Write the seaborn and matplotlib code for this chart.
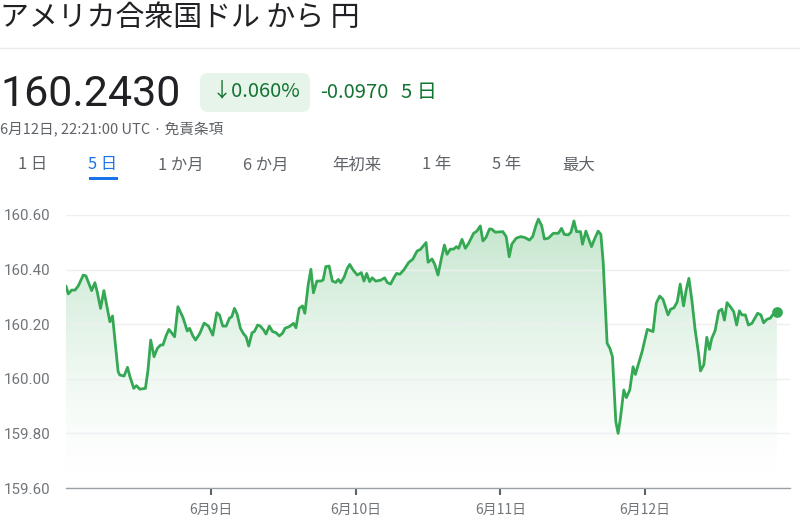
import numpy as np
import pandas as pd
import seaborn as sns
import matplotlib.pyplot as plt
from matplotlib.patches import FancyBboxPatch, Rectangle, PathPatch
from matplotlib.lines import Line2D

# hours since 6/8 00:00 and USD/JPY rate
hours = [0.0, 0.38, 0.94, 1.49, 2.03, 2.86, 3.30, 4.25, 4.79, 5.17,
         5.73, 6.28, 7.27, 7.71, 8.64, 8.92, 9.63, 10.19, 10.57, 11.23,
         11.68, 12.22, 13.16, 13.59, 14.04, 14.59, 15.15, 15.69, 16.07, 16.63,
         17.06, 18.00, 18.55, 19.38, 20.10, 20.48, 21.03, 21.47, 22.13, 22.90,
         23.62, 24.33, 24.99, 25.44, 25.98, 26.54, 27.09, 27.47, 27.92, 28.36,
         28.91, 29.45, 29.85, 30.28, 30.84, 31.22, 31.76, 32.21, 32.75, 33.15,
         33.70, 34.24, 34.80, 35.35, 35.89, 36.29, 37.00, 37.71, 38.11, 38.65,
         39.20, 39.59, 40.14, 40.59, 41.01, 41.58, 42.24, 42.62, 43.06, 43.61,
         44.15, 44.71, 45.14, 45.54, 46.09, 46.63, 47.03, 47.57,
         48.28, 48.94, 49.39, 49.83, 50.33, 50.76, 51.32, 52.15, 52.81, 53.24,
         53.80, 54.34, 54.79, 55.34, 56.00, 56.82, 57.48, 58.19, 58.75, 59.68,
         60.01, 60.67, 61.12, 61.66, 62.22, 62.72, 63.15, 63.71, 64.25, 64.70,
         65.08, 65.63, 66.19, 66.73, 67.56, 68.10, 68.67, 69.10, 69.59, 70.20,
         70.58, 71.14,
         72.40, 72.96, 73.46, 73.89, 74.61, 75.37, 76.10, 76.81, 77.35, 77.91,
         78.30, 78.84, 79.29, 79.95, 80.77, 81.60, 82.14, 82.59, 83.25, 83.70,
         84.19, 84.62, 85.28, 85.61, 86.17, 87.10, 87.66, 88.20, 88.65, 89.03,
         89.69, 90.14, 90.57, 91.13, 91.51, 91.89, 92.45, 92.88, 93.44, 93.99,
         94.37,
         95.48, 96.35, 97.30, 97.84, 98.40, 98.95, 99.78, 100.22, 100.77, 101.31,
         101.80, 102.36, 102.79, 103.24, 103.73, 104.28, 104.84, 105.17, 105.71, 106.21,
         106.65, 107.03, 107.58, 108.19, 108.69, 109.13, 109.56, 110.12, 110.67, 111.16,
         111.61, 112.04, 112.60, 113.10, 113.69, 114.63, 115.18, 115.63, 116.17, 116.73,
         117.11, 117.82]

prices = [160.340, 160.311, 160.325, 160.325, 160.340, 160.380, 160.377, 160.323, 160.352, 160.319,
          160.258, 160.323, 160.209, 160.230, 160.026, 160.014, 160.010, 160.042, 160.010, 159.965,
          159.975, 159.962, 159.965, 160.032, 160.142, 160.081, 160.112, 160.124, 160.124, 160.160,
          160.181, 160.154, 160.264, 160.225, 160.175, 160.185, 160.157, 160.142, 160.164, 160.204,
          160.193, 160.160, 160.242, 160.234, 160.193, 160.193, 160.222, 160.227, 160.258, 160.237,
          160.185, 160.164, 160.154, 160.120, 160.169, 160.173, 160.197, 160.193, 160.179, 160.164,
          160.193, 160.173, 160.169, 160.157, 160.167, 160.185, 160.191, 160.203, 160.187, 160.258,
          160.267, 160.240, 160.344, 160.401, 160.315, 160.358, 160.358, 160.362, 160.411, 160.413,
          160.358, 160.353, 160.364, 160.352, 160.372, 160.405, 160.419, 160.399,
          160.380, 160.389, 160.358, 160.386, 160.356, 160.370, 160.358, 160.361, 160.370, 160.353,
          160.347, 160.370, 160.386, 160.383, 160.399, 160.427, 160.438, 160.468, 160.474, 160.499,
          160.427, 160.439, 160.419, 160.380, 160.441, 160.490, 160.456, 160.475, 160.475, 160.484,
          160.478, 160.511, 160.478, 160.496, 160.533, 160.541, 160.560, 160.505, 160.517, 160.549,
          160.548, 160.537,
          160.539, 160.521, 160.447, 160.493, 160.515, 160.521, 160.517, 160.508, 160.521, 160.563,
          160.585, 160.561, 160.512, 160.515, 160.533, 160.533, 160.551, 160.529, 160.527, 160.537,
          160.578, 160.539, 160.539, 160.493, 160.541, 160.484, 160.515, 160.541, 160.529, 160.429,
          160.130, 160.112, 160.081, 159.843, 159.800, 159.855, 159.959, 159.931, 159.959, 160.044,
          160.016,
          160.099, 160.181, 160.173, 160.277, 160.303, 160.291, 160.234, 160.255, 160.260, 160.282,
          160.347, 160.267, 160.325, 160.368, 160.289, 160.179, 160.093, 160.029, 160.051, 160.152,
          160.108, 160.148, 160.176, 160.248, 160.255, 160.215, 160.279, 160.264, 160.246, 160.197,
          160.249, 160.234, 160.234, 160.197, 160.203, 160.240, 160.234, 160.205, 160.218, 160.222,
          160.234, 160.243]

y_ticks = [159.60, 159.80, 160.00, 160.20, 160.40, 160.60]
x_ticks = [24, 48, 72, 96]
x_labels = ['6月9日', '6月10日', '6月11日', '6月12日']
tabs = ['1 日', '5 日', '1 か月', '6 か月', '年初来', '1 年', '5 年', '最大']
tab_x = [18, 88, 158, 243, 332, 422, 492, 562]

sns.set_theme(style='white')
plt.rcParams['font.family'] = ['Noto Sans CJK JP', 'DejaVu Sans']

df = pd.DataFrame({'hour': hours, 'price': prices})
green = '#34a853'
dark_green = '#137333'
W, H = 800, 528

fig = plt.figure(figsize=(8, 5.28), dpi=100)
ax = fig.add_axes([66 / W, 1 - 488 / H, 724 / W, 273 / H])

# gradient fill under the line
poly = ax.fill_between(df['hour'], df['price'], 159.6, color='none', lw=0)
clip = PathPatch(poly.get_paths()[0], transform=ax.transData, fc='none', ec='none')
ax.add_patch(clip)
t = np.linspace(0, 1, 256)[:, None]
grad = np.zeros((256, 1, 4))
grad[..., 0] = 52 / 255
grad[..., 1] = 168 / 255
grad[..., 2] = 83 / 255
grad[..., 3] = 0.30 * t ** 1.5
im = ax.imshow(grad, extent=[0, 120, 159.6, 160.6], aspect='auto', origin='lower', zorder=0.5)
im.set_clip_path(clip)

sns.lineplot(data=df, x='hour', y='price', ax=ax, color=green, lw=2.0, zorder=3)
ax.scatter([hours[-1]], [prices[-1]], s=60, color=green, zorder=4, lw=0)

ax.set_xlim(0, 120)
ax.set_ylim(159.6, 160.6)
ax.set_yticks(y_ticks)
ax.set_yticklabels([f'{v:.2f}' for v in y_ticks])
ax.set_xticks(x_ticks)
ax.set_xticklabels(x_labels)
ax.set_xlabel('')
ax.set_ylabel('')
ax.set_axisbelow('line')
ax.yaxis.grid(True, color='#eeeff1', lw=1)
ax.xaxis.grid(False)
for s in ['top', 'right', 'left']:
    ax.spines[s].set_visible(False)
ax.spines['bottom'].set_color('#9aa0a6')
ax.spines['bottom'].set_linewidth(1)
ax.spines['bottom'].set_zorder(5)
ax.tick_params(axis='y', length=0, pad=11, labelsize=10.9, labelcolor='#70757a')
ax.tick_params(axis='x', length=5, width=1.5, color='#5f6368', direction='out',
               pad=6, labelsize=10, labelcolor='#70757a', bottom=True)
for lab in ax.get_yticklabels():
    lab.set_family(['Roboto', 'DejaVu Sans'])
ax.patch.set_alpha(0)

# header
fig.text(0, 1 - 18 / H, 'アメリカ合衆国ドル から 円', fontsize=20.8, color='#202124',
         va='center', ha='left')
fig.add_artist(Line2D([0, 1], [1 - 48 / H, 1 - 48 / H], color='#e8eaed', lw=1))
fig.text(0, 1 - 95 / H, '160.2430', fontsize=31, color='#202124', va='center', ha='left',
         family=['Roboto', 'DejaVu Sans'])
fig.add_artist(FancyBboxPatch((200 / 100, (H - 112) / 100), 1.10, 0.39,
                              boxstyle='round,pad=0,rounding_size=0.08',
                              transform=fig.dpi_scale_trans, fc='#e6f4ea', ec='none'))
fig.text(212 / W, 1 - 92 / H, '↓0.060%', fontsize=14.5, color=dark_green, va='center', ha='left')
fig.text(320 / W, 1 - 92 / H, '-0.0970', fontsize=14.5, color=dark_green, va='center', ha='left')
fig.text(401 / W, 1 - 92 / H, '5 日', fontsize=14.5, color=dark_green, va='center', ha='left')
fig.text(0, 1 - 130 / H, '6月12日, 22:21:00 UTC · 免責条項', fontsize=10.5, color='#5f6368',
         va='center', ha='left')
for label, x in zip(tabs, tab_x):
    c = '#1a73e8' if label == '5 日' else '#5f6368'
    fig.text(x / W, 1 - 165 / H, label, fontsize=11.8, color=c, va='center', ha='left')
fig.add_artist(Rectangle((89 / W, 1 - 180 / H), 29 / W, 3 / H, transform=fig.transFigure,
                         fc='#1a73e8', ec='none'))

fig.savefig('out.png', dpi=100)
